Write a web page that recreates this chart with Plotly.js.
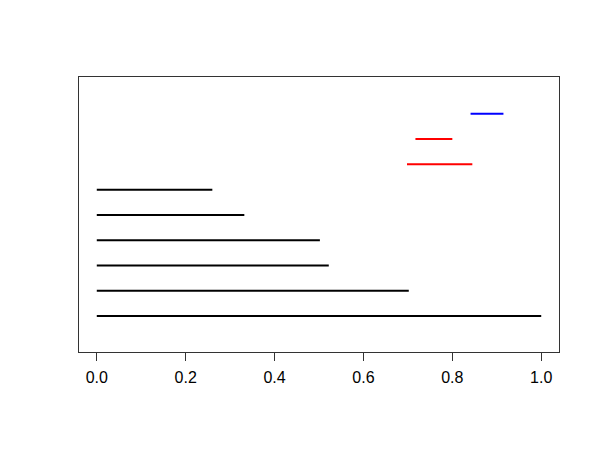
<!DOCTYPE html>
<html>
<head>
<meta charset="utf-8">
<script src="https://cdn.plot.ly/plotly-3.0.1.min.js"></script>
<style>html,body{margin:0;padding:0;background:#fff;}#chart{width:600px;height:450px;}</style>
</head>
<body>
<div id="chart"></div>
<script>
// Data: horizontal segments (level, start, end)
var levels = [1, 2, 3, 4, 5, 6, 7, 8, 9];
var starts = [0, 0, 0, 0, 0, 0, 0.698, 0.717, 0.841];
var ends   = [1.0, 0.702, 0.522, 0.502, 0.332, 0.26, 0.845, 0.80, 0.915];
var tickValues = [0, 0.2, 0.4, 0.6, 0.8, 1.0];
var tickLabels = ["0.0", "0.2", "0.4", "0.6", "0.8", "1.0"];
// Styles
var segColors = ["black", "black", "black", "black", "black", "black", "red", "red", "blue"];

var traces = levels.map(function (lv, i) {
  return {
    type: "scatter",
    mode: "lines",
    x: [starts[i], ends[i]],
    y: [lv, lv],
    line: {color: segColors[i], width: 2},
    hoverinfo: "skip",
    showlegend: false
  };
});

var layout = {
  width: 600,
  height: 450,
  margin: {l: 79, r: 41, t: 77, b: 98, pad: 0},
  paper_bgcolor: "#fff",
  plot_bgcolor: "#fff",
  showlegend: false,
  font: {family: "Liberation Sans, Arial, Helvetica, sans-serif", size: 16, color: "#000"},
  xaxis: {
    range: [-0.04, 1.04],
    showgrid: false,
    zeroline: false,
    showline: true,
    mirror: true,
    linecolor: "#333",
    linewidth: 1,
    ticks: "outside",
    ticklen: 8,
    tickwidth: 1,
    tickcolor: "#333",
    tickvals: tickValues,
    ticktext: tickLabels,
    ticklabelstandoff: 3,
    tickfont: {size: 16, color: "#000"}
  },
  yaxis: {
    range: [-0.43, 10.46],
    showgrid: false,
    zeroline: false,
    showline: true,
    mirror: true,
    linecolor: "#333",
    linewidth: 1,
    ticks: "",
    showticklabels: false
  }
};

Plotly.newPlot("chart", traces, layout, {displayModeBar: false, staticPlot: true});
</script>
</body>
</html>
